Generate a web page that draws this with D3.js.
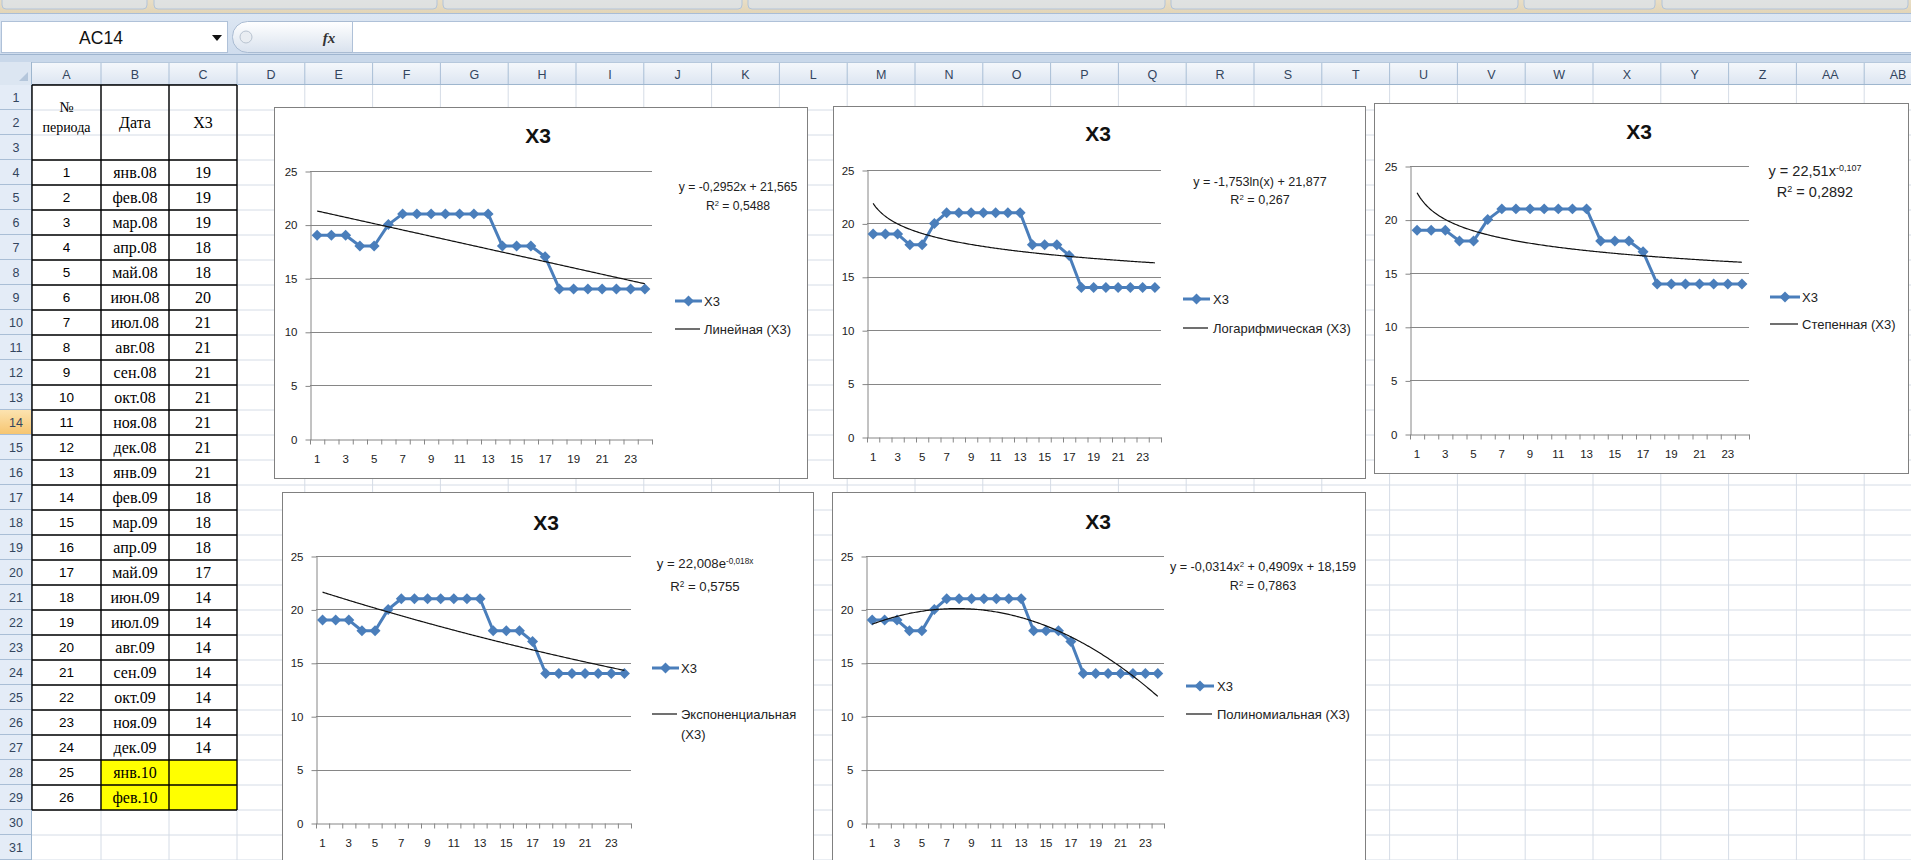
<!DOCTYPE html>
<html>
<head>
<meta charset="utf-8">
<script src="https://cdn.jsdelivr.net/npm/d3@7"></script>
<style>
  html, body { margin: 0; padding: 0; background: #fff; overflow: hidden; }
  svg { display: block; }
</style>
</head>
<body>
<svg id="sheet" width="1911" height="860"></svg>
<script>
// ---------- data ----------
const periods = [1, 2, 3, 4, 5, 6, 7, 8, 9, 10, 11, 12, 13, 14, 15, 16, 17, 18, 19, 20, 21, 22, 23, 24, 25, 26];
const dates = ["янв.08", "фев.08", "мар.08", "апр.08", "май.08", "июн.08", "июл.08", "авг.08", "сен.08", "окт.08", "ноя.08", "дек.08",
               "янв.09", "фев.09", "мар.09", "апр.09", "май.09", "июн.09", "июл.09", "авг.09", "сен.09", "окт.09", "ноя.09", "дек.09",
               "янв.10", "фев.10"];
const x3Values = [19, 19, 19, 18, 18, 20, 21, 21, 21, 21, 21, 21, 21, 18, 18, 18, 17, 14, 14, 14, 14, 14, 14, 14];
const yTickValues = [0, 5, 10, 15, 20, 25];
const xTickLabels = [1, 3, 5, 7, 9, 11, 13, 15, 17, 19, 21, 23];
const columnLetters = ["A", "B", "C", "D", "E", "F", "G", "H", "I", "J", "K", "L", "M", "N", "O", "P", "Q", "R", "S", "T", "U", "V", "W", "X", "Y", "Z", "AA", "AB", "AC"];

// trend line coefficients as printed on each chart
const linearCoef = [-0.2952, 21.565];
const logCoef = [-1.753, 21.877];
const powerCoef = [22.51, -0.107];
const expCoef = [22.008, -0.018];
const polyCoef = [-0.0314, 0.4909, 18.159];
const rSquared = [0.5488, 0.267, 0.2892, 0.5755, 0.7863];
const trendNames = ["Линейная (X3)", "Логарифмическая (X3)", "Степенная (X3)", "Экспоненциальная (X3)", "Полиномиальная (X3)"];
const seriesName = "X3";

// ---------- helpers ----------
const W = 1911, H = 860;
const SANS = "'Liberation Sans', Arial, sans-serif";
const SERIF = "'Liberation Serif', 'Times New Roman', serif";
const svg = d3.select("#sheet");
const fmt = v => String(v).replace(".", ",");

const defs = svg.append("defs");
function vGrad(id, stops) {
  const g = defs.append("linearGradient").attr("id", id).attr("x1", 0).attr("y1", 0).attr("x2", 0).attr("y2", 1);
  stops.forEach(([o, c]) => g.append("stop").attr("offset", o).attr("stop-color", c));
}
vGrad("hdrGrad", [[0, "#F5F8FC"], [1, "#DCE5F1"]]);
vGrad("selGrad", [[0, "#FCE3B0"], [1, "#F6C46E"]]);
vGrad("barGrad", [[0, "#DDE7F3"], [1, "#CCDAEC"]]);
vGrad("pillGrad", [[0, "#FFFFFF"], [1, "#D9E2EE"]]);
vGrad("ribbonGrad", [[0, "#E9DEC6"], [1, "#E2D4B6"]]);

svg.append("rect").attr("width", W).attr("height", H).attr("fill", "#fff");

// ---------- window chrome ----------
const chrome = svg.append("g");
chrome.append("rect").attr("x", 0).attr("y", 0).attr("width", W).attr("height", 14).attr("fill", "url(#ribbonGrad)");
[[2, 147], [154, 437], [443, 742], [748, 1165], [1171, 1518], [1524, 1655], [1662, 1908]].forEach(([a, b]) => {
  chrome.append("rect").attr("x", a).attr("y", -8).attr("width", b - a).attr("height", 17).attr("rx", 4)
    .attr("fill", "#DCE4EE").attr("fill-opacity", 0.7).attr("stroke", "#B3C4D8");
});
chrome.append("rect").attr("x", 0).attr("y", 13).attr("width", W).attr("height", 49).attr("fill", "url(#barGrad)");
chrome.append("line").attr("x1", 0).attr("x2", W).attr("y1", 13.5).attr("y2", 13.5).attr("stroke", "#A9BDD6");
// name box
chrome.append("rect").attr("x", 1.5).attr("y", 21.5).attr("width", 226).attr("height", 31).attr("fill", "#fff").attr("stroke", "#AFC1D8");
chrome.append("text").attr("x", 101).attr("y", 44).attr("text-anchor", "middle").attr("font-family", SANS)
  .attr("font-size", 17.5).attr("fill", "#111").text("AC14");
chrome.append("path").attr("d", "M212,35 L222,35 L217,41 Z").attr("fill", "#111");
// fx control
chrome.append("rect").attr("x", 232.5).attr("y", 21.5).attr("width", 140).attr("height", 31).attr("rx", 15)
  .attr("fill", "url(#pillGrad)").attr("stroke", "#A9BBD2");
chrome.append("circle").attr("cx", 246).attr("cy", 37).attr("r", 6).attr("fill", "#E9EDF2").attr("stroke", "#B8C3D0");
chrome.append("text").attr("x", 329).attr("y", 43).attr("text-anchor", "middle").attr("font-family", SERIF)
  .attr("font-style", "italic").attr("font-weight", "bold").attr("font-size", 15).attr("fill", "#333").text("fx");
chrome.append("rect").attr("x", 352.5).attr("y", 21.5).attr("width", W - 352).attr("height", 31).attr("fill", "#fff").attr("stroke", "#AFC1D8");
chrome.append("rect").attr("x", 0).attr("y", 54).attr("width", W).attr("height", 8).attr("fill", "#C9D8EA");
chrome.append("line").attr("x1", 0).attr("x2", W).attr("y1", 54.5).attr("y2", 54.5).attr("stroke", "#9FB5CF");

// ---------- sheet grid ----------
const HEADER_TOP = 62, HEADER_BOTTOM = 85, ROW_H = 25, ROWHDR_W = 32;
const colEdges = [0, 32, 101, 169, 237];
while (colEdges[colEdges.length - 1] < W) colEdges.push(colEdges[colEdges.length - 1] + 67.8);
const rowTop = r => HEADER_BOTTOM + (r - 1) * ROW_H;
const rowNumbers = d3.range(1, 32);

const grid = svg.append("g");
// cell gridlines
colEdges.slice(2).forEach(xe => grid.append("line").attr("x1", xe).attr("x2", xe).attr("y1", HEADER_BOTTOM).attr("y2", H)
  .attr("stroke", "#D5DCE6"));
rowNumbers.forEach(r => grid.append("line").attr("x1", ROWHDR_W).attr("x2", W).attr("y1", rowTop(r + 1)).attr("y2", rowTop(r + 1))
  .attr("stroke", "#D5DCE6"));

// column headers
grid.append("rect").attr("x", 0).attr("y", HEADER_TOP).attr("width", W).attr("height", HEADER_BOTTOM - HEADER_TOP).attr("fill", "url(#hdrGrad)");
columnLetters.forEach((c, i) => {
  const x0 = colEdges[i + 1], x1 = colEdges[i + 2];
  if (x0 === undefined || x0 > W) return;
  grid.append("line").attr("x1", x1).attr("x2", x1).attr("y1", HEADER_TOP).attr("y2", HEADER_BOTTOM).attr("stroke", "#A9BED6");
  grid.append("text").attr("x", (x0 + x1) / 2).attr("y", 78.5).attr("text-anchor", "middle")
    .attr("font-family", SANS).attr("font-size", 12.5).attr("fill", "#33455E").text(c);
});
grid.append("line").attr("x1", 0).attr("x2", W).attr("y1", HEADER_BOTTOM - 0.5).attr("y2", HEADER_BOTTOM - 0.5).attr("stroke", "#9EB6CE");
grid.append("line").attr("x1", 0).attr("x2", W).attr("y1", HEADER_TOP + 0.5).attr("y2", HEADER_TOP + 0.5).attr("stroke", "#B6C8DC");
// select-all corner
grid.append("rect").attr("x", 0).attr("y", HEADER_TOP).attr("width", ROWHDR_W).attr("height", HEADER_BOTTOM - HEADER_TOP).attr("fill", "#DCE6F2");
grid.append("path").attr("d", `M${ROWHDR_W - 4},${HEADER_BOTTOM - 13} L${ROWHDR_W - 4},${HEADER_BOTTOM - 4} L${ROWHDR_W - 13},${HEADER_BOTTOM - 4} Z`).attr("fill", "#B4C6DB");

// row headers
rowNumbers.forEach(r => {
  const y0 = rowTop(r);
  grid.append("rect").attr("x", 0).attr("y", y0).attr("width", ROWHDR_W).attr("height", ROW_H)
    .attr("fill", r === 14 ? "url(#selGrad)" : "#E4ECF7");
  grid.append("line").attr("x1", 0).attr("x2", ROWHDR_W).attr("y1", y0 + ROW_H - 0.5).attr("y2", y0 + ROW_H - 0.5).attr("stroke", "#A9BED6");
  grid.append("text").attr("x", 16).attr("y", y0 + 17).attr("text-anchor", "middle").attr("font-family", SANS)
    .attr("font-size", 12.5).attr("fill", "#33455E").text(r);
});
grid.append("line").attr("x1", ROWHDR_W - 0.5).attr("x2", ROWHDR_W - 0.5).attr("y1", HEADER_TOP).attr("y2", H).attr("stroke", "#9EB6CE");

// ---------- data table ----------
const table = svg.append("g");
const cA = [colEdges[1], colEdges[2]], cB = [colEdges[2], colEdges[3]], cC = [colEdges[3], colEdges[4]];
const mid = c => (c[0] + c[1]) / 2;
periods.forEach((p, i) => {
  const r = i + 4;
  if (x3Values[i] === undefined) {
    table.append("rect").attr("x", cB[0]).attr("y", rowTop(r)).attr("width", cC[1] - cB[0]).attr("height", ROW_H).attr("fill", "#FFFF00");
  }
});
// header block (rows 1-3 merged)
const hdrMid = (rowTop(1) + rowTop(4)) / 2;
table.append("text").attr("x", mid(cA)).attr("y", hdrMid - 11).attr("text-anchor", "middle").attr("font-family", SERIF).attr("font-size", 15).text("№");
table.append("text").attr("x", mid(cA)).attr("y", hdrMid + 9).attr("text-anchor", "middle").attr("font-family", SERIF).attr("font-size", 14).text("периода");
table.append("text").attr("x", mid(cB)).attr("y", hdrMid + 5).attr("text-anchor", "middle").attr("font-family", SERIF).attr("font-size", 16).text("Дата");
table.append("text").attr("x", mid(cC)).attr("y", hdrMid + 5).attr("text-anchor", "middle").attr("font-family", SERIF).attr("font-size", 16).text("X3");
periods.forEach((p, i) => {
  const r = i + 4, base = rowTop(r) + 18;
  table.append("text").attr("x", mid(cA)).attr("y", base - 1).attr("text-anchor", "middle").attr("font-family", SANS).attr("font-size", 13.5).text(p);
  table.append("text").attr("x", mid(cB)).attr("y", base).attr("text-anchor", "middle").attr("font-family", SERIF).attr("font-size", 16).text(dates[i]);
  if (x3Values[i] !== undefined)
    table.append("text").attr("x", mid(cC)).attr("y", base).attr("text-anchor", "middle").attr("font-family", SERIF).attr("font-size", 16).text(x3Values[i]);
});
// borders
const tableBottom = rowTop(periods.length + 4);
[colEdges[1], colEdges[2], colEdges[3], colEdges[4]].forEach(xe =>
  table.append("line").attr("x1", xe).attr("x2", xe).attr("y1", rowTop(1)).attr("y2", tableBottom).attr("stroke", "#000").attr("stroke-width", 1.4));
[rowTop(1)].concat(periods.map((p, i) => rowTop(i + 4)), [tableBottom]).forEach(ye =>
  table.append("line").attr("x1", colEdges[1]).attr("x2", colEdges[4]).attr("y1", ye).attr("y2", ye).attr("stroke", "#000").attr("stroke-width", 1.4));

// ---------- charts ----------
const categories = periods.slice(0, x3Values.length);
const series = categories.map((c, i) => ({ c, v: x3Values[i] }));

const trendModels = [
  x => linearCoef[0] * x + linearCoef[1],
  x => logCoef[0] * Math.log(x) + logCoef[1],
  x => powerCoef[0] * Math.pow(x, powerCoef[1]),
  x => expCoef[0] * Math.exp(expCoef[1] * x),
  x => polyCoef[0] * x * x + polyCoef[1] * x + polyCoef[2]
];
const equations = [
  [{ t: `y = ${fmt(linearCoef[0])}x + ${fmt(linearCoef[1])}` }],
  [{ t: `y = ${fmt(logCoef[0])}ln(x) + ${fmt(logCoef[1])}` }],
  [{ t: `y = ${fmt(powerCoef[0])}x` }, { t: fmt(powerCoef[1]), sup: true }],
  [{ t: `y = ${fmt(expCoef[0])}e` }, { t: `${fmt(expCoef[1])}x`, sup: true }],
  [{ t: `y = ${fmt(polyCoef[0])}x` }, { t: "2", sup: true }, { t: ` + ${fmt(polyCoef[1])}x + ${fmt(polyCoef[2])}` }]
];

const chartLayouts = [
  { box: [274, 107, 807, 478], plot: [310, 652, 171, 439], title: [538, 143], eq: { cx: 738, y: [191, 210], size: 12.2 },
    legend: { x: 675, y: [301, 329], len: 27, tx: 704 } },
  { box: [833, 106, 1365, 478], plot: [867, 1161, 170, 437], title: [1098, 141], eq: { cx: 1260, y: [186, 204], size: 12.6 },
    legend: { x: 1183, y: [299, 328], len: 27, tx: 1213 } },
  { box: [1374, 103, 1908, 473], plot: [1410, 1749, 166, 434], title: [1639, 139], eq: { cx: 1815, y: [176, 197], size: 14.5 },
    legend: { x: 1770, y: [297, 324], len: 30, tx: 1802 } },
  { box: [282, 492, 813, 880], plot: [316, 631, 556, 823], title: [546, 530], eq: { cx: 705, y: [568, 591], size: 13.2 },
    legend: { x: 652, y: [668, 714], len: 27, tx: 681, wrap: true } },
  { box: [832, 492, 1365, 880], plot: [866, 1164, 556, 823], title: [1098, 529], eq: { cx: 1263, y: [571, 590], size: 12.6 },
    legend: { x: 1186, y: [686, 714], len: 28, tx: 1217 } }
];

const BLUE = "#4A7EBB", AXIS = "#868686";
const diamond = d3.symbol(d3.symbolSquare, 60);

function richText(g, x, y, parts, size, anchor) {
  const t = g.append("text").attr("x", x).attr("y", y).attr("text-anchor", anchor)
    .attr("font-family", SANS).attr("font-size", size).attr("fill", "#222");
  parts.forEach(p => {
    const s = t.append("tspan").text(p.t);
    if (p.sup) s.attr("baseline-shift", "super").attr("font-size", size * 0.62);
  });
  return t;
}

function drawChart(L, k) {
  const g = svg.append("g");
  const [bx0, by0, bx1, by1] = L.box;
  g.append("rect").attr("x", bx0 + 0.5).attr("y", by0 + 0.5).attr("width", bx1 - bx0).attr("height", by1 - by0)
    .attr("fill", "#fff").attr("stroke", "#808080");

  const [xl, xr, yt, yb] = L.plot;
  const x = d3.scaleBand().domain(categories).range([xl, xr]);
  const bw = x.bandwidth();
  const edge = d3.scaleLinear().domain([0, categories.length]).range([xl, xr]);
  const y = d3.scaleLinear().domain([0, d3.max(yTickValues)]).range([yb, yt]);
  const xc = d3.scaleLinear().domain([categories[0], categories[categories.length - 1]])
    .range([x(categories[0]) + bw / 2, x(categories[categories.length - 1]) + bw / 2]);

  // horizontal gridlines
  g.append("g").selectAll("line").data(yTickValues.filter(v => v > 0)).join("line")
    .attr("x1", xl).attr("x2", xr).attr("y1", d => Math.round(y(d)) + 0.5).attr("y2", d => Math.round(y(d)) + 0.5)
    .attr("stroke", AXIS).attr("stroke-width", 1);

  // value axis
  const ya = g.append("g").attr("transform", `translate(${Math.round(xl) + 0.5},0.5)`)
    .call(d3.axisLeft(y).tickValues(yTickValues).tickSize(5).tickSizeOuter(0).tickPadding(8));
  // category axis: ticks between categories, labels on odd periods
  const xa = g.append("g").attr("transform", `translate(0,${Math.round(yb) + 0.5})`)
    .call(d3.axisBottom(edge).tickValues(d3.range(0, categories.length + 1)).tickFormat("").tickSize(5).tickSizeOuter(0));
  const xl2 = g.append("g").attr("transform", `translate(0,${Math.round(yb) + 0.5})`)
    .call(d3.axisBottom(x).tickValues(xTickLabels).tickSize(0).tickPadding(15));
  xl2.select(".domain").remove();
  [ya, xa, xl2].forEach(a => {
    a.selectAll("path.domain").attr("stroke", AXIS);
    a.selectAll(".tick line").attr("stroke", AXIS);
    a.selectAll("text").attr("font-family", SANS).attr("font-size", 11.5).attr("fill", "#222");
  });

  // series line + markers
  g.append("path").datum(series)
    .attr("d", d3.line().x(d => x(d.c) + bw / 2).y(d => y(d.v)))
    .attr("fill", "none").attr("stroke", BLUE).attr("stroke-width", 3).attr("stroke-linejoin", "round");
  g.append("g").selectAll("path").data(series).join("path")
    .attr("d", diamond)
    .attr("transform", d => `translate(${x(d.c) + bw / 2},${y(d.v)}) rotate(45)`)
    .attr("fill", BLUE);

  // trend line from the fitted equation
  const f = trendModels[k];
  const xs = d3.range(categories[0], categories[categories.length - 1] + 0.001, 0.1);
  g.append("path").datum(xs)
    .attr("d", d3.line().x(v => xc(v)).y(v => y(f(v))))
    .attr("fill", "none").attr("stroke", "#111").attr("stroke-width", 1.2);

  // title
  g.append("text").attr("x", L.title[0]).attr("y", L.title[1]).attr("text-anchor", "middle")
    .attr("font-family", SANS).attr("font-weight", "bold").attr("font-size", 21).attr("fill", "#111").text(seriesName);

  // equation and R²
  richText(g, L.eq.cx, L.eq.y[0], equations[k], L.eq.size, "middle");
  richText(g, L.eq.cx, L.eq.y[1], [{ t: "R" }, { t: "2", sup: true }, { t: ` = ${fmt(rSquared[k])}` }], L.eq.size, "middle");

  // legend
  const lg = L.legend, LF = 13;
  g.append("line").attr("x1", lg.x).attr("x2", lg.x + lg.len).attr("y1", lg.y[0]).attr("y2", lg.y[0])
    .attr("stroke", BLUE).attr("stroke-width", 3);
  g.append("path").attr("d", diamond).attr("transform", `translate(${lg.x + lg.len / 2},${lg.y[0]}) rotate(45)`).attr("fill", BLUE);
  g.append("text").attr("x", lg.tx).attr("y", lg.y[0] + 4.5).attr("font-family", SANS).attr("font-size", LF).attr("fill", "#222").text(seriesName);
  g.append("line").attr("x1", lg.x).attr("x2", lg.x + lg.len - 2).attr("y1", lg.y[1]).attr("y2", lg.y[1])
    .attr("stroke", "#111").attr("stroke-width", 1.2);
  const name = trendNames[k];
  if (lg.wrap) {
    const cut = name.lastIndexOf(" ");
    g.append("text").attr("x", lg.tx).attr("y", lg.y[1] + 4.5).attr("font-family", SANS).attr("font-size", LF).attr("fill", "#222").text(name.slice(0, cut));
    g.append("text").attr("x", lg.tx).attr("y", lg.y[1] + 24.5).attr("font-family", SANS).attr("font-size", LF).attr("fill", "#222").text(name.slice(cut + 1));
  } else {
    g.append("text").attr("x", lg.tx).attr("y", lg.y[1] + 4.5).attr("font-family", SANS).attr("font-size", LF).attr("fill", "#222").text(name);
  }
}

chartLayouts.forEach((L, k) => drawChart(L, k));
</script>
</body>
</html>
